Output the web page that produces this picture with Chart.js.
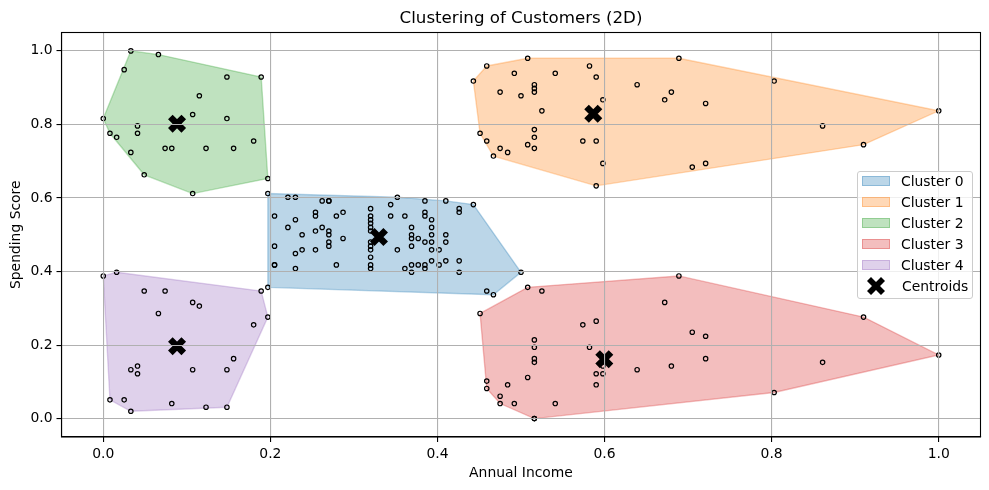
<!DOCTYPE html>
<html>
<head>
<meta charset="utf-8">
<title>Clustering of Customers (2D)</title>
<script src="https://cdn.jsdelivr.net/npm/chart.js@4"></script>
<style>
  body { margin: 0; background: #fff; }
  #wrap { position: relative; width: 989px; height: 490px; font-family: "DejaVu Sans", sans-serif; }
  #legend {
    position: absolute; left: 857px; top: 171px; width: 114px; height: 126px;
    background: rgba(255,255,255,0.8); border: 1px solid #ccc; border-radius: 3px;
    font-size: 13.9px; color: #000;
  }
  #legend .row { position: absolute; left: 0; height: 16px; line-height: 16px; white-space: nowrap; }
  #legend .swatch { position: absolute; left: 4px; top: 3px; width: 28px; height: 10px; box-sizing: border-box; border-width: 1px; border-style: solid; }
  #legend .name { position: absolute; left: 43px; top: 0; }
  #legend svg { position: absolute; left: 8px; top: -2px; }
</style>
</head>
<body>
<div id="wrap">
  <canvas id="chart" width="989" height="490"></canvas>
  <div id="legend"></div>
</div>
<script>
// Cluster names and colours
const clusterNames = ['Cluster 0', 'Cluster 1', 'Cluster 2', 'Cluster 3', 'Cluster 4'];
const clusterColors = ['31,119,180', '255,127,14', '44,160,44', '214,39,40', '148,103,189'];

// Tick positions
const xTickValues = [0, 0.2, 0.4, 0.6, 0.8, 1];
const yTickValues = [0, 0.2, 0.4, 0.6, 0.8, 1];

// Cluster 0
const cluster0X = [.197,.197,.205,.205,.205,.205,.221,.221,.230,.230,.230,.230,.238,.238,.254,.254,.254,.254,.262,.262,.270,.270,.270,.270,.270,.270,.279,.279,.287,.287,
  .320,.320,.320,.320,.320,.320,.320,.320,.320,.320,.320,.320,.344,.344,.352,.352,.361,.361,.369,.369,.369,.369,.369,.369,.377,.377,
  .385,.385,.385,.385,.385,.385,.393,.393,.393,.393,.393,.393,.402,.402,.410,.410,.410,.410,.426,.426,.426,.426,.443,.459,.467,.500];
const cluster0Y = [.612,.357,.551,.469,.418,.418,.520,.602,.541,.602,.449,.408,.500,.459,.510,.459,.561,.551,.520,.592,.510,.592,.500,.480,.592,.469,.551,.418,.490,.561,
  .469,.541,.531,.480,.520,.418,.510,.551,.408,.439,.571,.459,.582,.551,.602,.459,.551,.408,.490,.398,.418,.520,.469,.500,.418,.490,
  .408,.480,.592,.551,.561,.418,.500,.459,.429,.480,.520,.541,.418,.459,.480,.500,.429,.592,.429,.571,.561,.398,.582,.347,.337,.398];

// Cluster 1
const cluster1X = [.443,.451,.459,.459,.467,.475,.475,.484,.492,.500,.508,.508,.516,.516,.516,.516,.516,.516,.525,.541,.574,.582,.590,.590,.590,.598,.598,.639,.672,.680,.689,.705,.721,.721,.803,.861,.910,1];
const cluster1Y = [.918,.776,.959,.755,.714,.888,.735,.724,.939,.878,.980,.745,.908,.888,.765,.898,.786,.735,.837,.939,.755,.959,.633,.755,.929,.867,.694,.908,.867,.888,.980,.684,.857,.694,.918,.796,.745,.837];

// Cluster 2
const cluster2X = [0,.008,.016,.025,.033,.033,.041,.041,.049,.066,.074,.082,.107,.107,.115,.123,.148,.148,.156,.180,.189,.197];
const cluster2Y = [.816,.776,.765,.949,.724,1,.776,.796,.663,.990,.735,.735,.827,.612,.878,.735,.929,.816,.735,.755,.929,.653];

// Cluster 3
const cluster3X = [.451,.459,.459,.475,.475,.484,.492,.508,.508,.516,.516,.516,.516,.516,.516,.525,.541,.574,.582,.590,.590,.590,.598,.598,.639,.672,.680,.689,.705,.721,.721,.803,.861,.910,1];
const cluster3Y = [.286,.102,.082,.041,.061,.092,.041,.112,.357,.214,.163,.194,.153,0,0,.347,.041,.255,.194,.265,.122,.092,.122,.143,.133,.316,.143,.388,.235,.163,.224,.071,.153,.276,.173];

// Cluster 4
const cluster4X = [0,.008,.016,.025,.033,.033,.041,.041,.049,.066,.074,.082,.107,.107,.115,.123,.148,.148,.156,.180,.189,.197];
const cluster4Y = [.388,.051,.398,.051,.020,.133,.143,.122,.347,.286,.347,.041,.133,.316,.306,.031,.031,.133,.163,.255,.347,.276];

// Centroids
const centroidX = [.330, .5865, .0883, .5997, .0883];
const centroidY = [.494, .829, .802, .1616, .197];

const clusterXs = [cluster0X, cluster1X, cluster2X, cluster3X, cluster4X];
const clusterYs = [cluster0Y, cluster1Y, cluster2Y, cluster3Y, cluster4Y];

function toPoints(xs, ys) {
    return xs.map((x, i) => ({ x: x, y: ys[i] }));
}

// Convex hull (monotone chain), closed back onto the first vertex
function convexHull(points) {
    const sorted = points.slice().sort((a, b) => a.x - b.x || a.y - b.y);
    const cross = (o, a, b) => (a.x - o.x) * (b.y - o.y) - (a.y - o.y) * (b.x - o.x);
    const half = list => {
        const out = [];
        list.forEach(p => {
            while (out.length >= 2 && cross(out[out.length - 2], out[out.length - 1], p) <= 0) out.pop();
            out.push(p);
        });
        out.pop();
        return out;
    };
    const hull = half(sorted).concat(half(sorted.slice().reverse()));
    hull.push(hull[0]);
    return hull;
}

const datasets = [];
clusterNames.forEach((name, i) => {
    const points = toPoints(clusterXs[i], clusterYs[i]);
    datasets.push({
        label: name,
        data: convexHull(points),
        showLine: true,
        fill: 'shape',
        tension: 0,
        backgroundColor: `rgba(${clusterColors[i]},0.3)`,
        borderColor: `rgba(${clusterColors[i]},0.3)`,
        borderWidth: 1.4,
        pointRadius: 0,
        order: 3
    });
    datasets.push({
        label: name + ' points',
        data: points,
        pointStyle: 'circle',
        pointRadius: 2.2,
        pointBorderWidth: 1.2,
        pointBackgroundColor: 'rgba(0,0,0,0)',
        pointBorderColor: '#000',
        order: 2
    });
});
datasets.push({
    label: 'Centroids',
    data: toPoints(centroidX, centroidY),
    pointStyle: 'crossRot',
    pointRadius: 9.5,
    pointBorderWidth: 6.5,
    pointBorderColor: '#000',
    pointBackgroundColor: '#000',
    order: 1
});

// Top and right edges of the axes box
const frame = {
    id: 'frame',
    afterDraw(chart) {
        const { ctx, chartArea: a } = chart;
        ctx.save();
        ctx.strokeStyle = '#000';
        ctx.lineWidth = 1.1;
        ctx.strokeRect(a.left, a.top, a.right - a.left, a.bottom - a.top);
        ctx.restore();
    }
};

Chart.defaults.font.family = '"DejaVu Sans", sans-serif';
Chart.defaults.font.size = 13.9;
Chart.defaults.color = '#000';

function axis(label, tickValues, size, titlePadding) {
    return {
        type: 'linear',
        min: -0.05,
        max: 1.05,
        title: { display: true, text: label, padding: titlePadding, font: { size: 13.9 } },
        grid: { color: '#b0b0b0', lineWidth: 1.1, z: 1, tickColor: '#000', tickLength: 5, tickWidth: 1.1 },
        border: { color: '#000', width: 1.1, z: 2 },
        ticks: { padding: 4, maxRotation: 0, callback: v => v.toFixed(1) },
        afterBuildTicks: scale => { scale.ticks = tickValues.map(v => ({ value: v })); },
        afterFit: scale => {
            if (scale.isHorizontal()) scale.height = size; else scale.width = size;
            // labels never reach the ends of the axis, no room needed for them
            scale.paddingLeft = scale.paddingRight = scale.paddingTop = scale.paddingBottom = 0;
        }
    };
}

new Chart(document.getElementById('chart'), {
    type: 'scatter',
    data: { datasets: datasets },
    options: {
        responsive: false,
        devicePixelRatio: 1,
        animation: false,
        layout: { autoPadding: false, padding: { left: 0, right: 8.5, top: 0, bottom: 0 } },
        scales: {
            x: axis('Annual Income', xTickValues, 53, { top: 4, bottom: 8 }),
            y: axis('Spending Score', yTickValues, 61.5, { top: 8, bottom: 4 })
        },
        plugins: {
            title: {
                display: true,
                text: 'Clustering of Customers (2D)',
                color: '#000',
                fullSize: false,
                font: { size: 16.67, weight: 'normal' },
                padding: { top: 9, bottom: 3.5 }
            },
            legend: { display: false },
            tooltip: { enabled: false }
        }
    },
    plugins: [frame]
});

// Legend sits inside the axes, so it is built as a small overlay
const legendEl = document.getElementById('legend');
clusterNames.forEach((name, i) => {
    const row = document.createElement('div');
    row.className = 'row';
    row.style.top = (1 + i * 21) + 'px';
    row.innerHTML = `<span class="swatch" style="background:rgba(${clusterColors[i]},0.3);border-color:rgba(${clusterColors[i]},0.3)"></span><span class="name">${name}</span>`;
    legendEl.appendChild(row);
});
const centroidRow = document.createElement('div');
centroidRow.className = 'row';
centroidRow.style.top = (1 + 5 * 21) + 'px';
centroidRow.innerHTML = '<svg width="20" height="20" viewBox="0 0 20 20"><path d="M5 1 L10 6 L15 1 L19 5 L14 10 L19 15 L15 19 L10 14 L5 19 L1 15 L6 10 L1 5 Z" fill="#000"/></svg><span class="name" style="left:44px">Centroids</span>';
legendEl.appendChild(centroidRow);
</script>
</body>
</html>
